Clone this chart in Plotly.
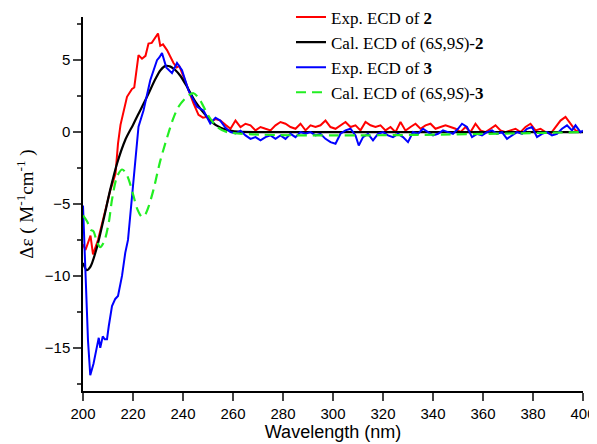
import plotly.graph_objects as go

# ---- data ----
red_wl = [200, 201, 203, 204, 206, 209, 211, 213, 214, 215, 216, 217.6, 219.6, 220.5, 222.2, 223.6, 225,
          226.2, 227.5, 228.5, 230, 230.9, 232, 233.6, 235, 236.2, 237.5, 238.5, 240.2, 242, 244.2, 246.2,
          248, 249.6, 251, 253, 255, 257,
          259, 261, 263, 265, 267, 269, 271, 273, 275, 277, 279, 281, 283, 285, 287, 289, 291, 293, 295, 297,
          299, 301, 303, 305, 307, 309, 311, 313, 315, 317, 319, 321, 323, 325, 327, 329, 331, 333, 335, 337,
          339, 341, 343, 345, 347, 349, 351, 353, 355, 357, 359, 361, 363, 365, 367, 369, 371, 373, 375, 377,
          379, 381, 383, 385, 387, 389, 391, 393, 395, 397, 399, 400]
red_val = [-7.8, -8.2, -7.2, -8.5, -7.5, -5.4, -4.0, -2.9, -0.8, 0.5, 1.2, 2.45, 3.0, 3.1, 5.35, 5.1, 5.3,
           6.15, 6.2, 6.5, 6.85, 6.0, 6.1, 5.7, 5.2, 4.8, 4.5, 4.6, 3.85, 3.0, 2.0, 1.2,
           1.0, 1.06, 0.7, 0.9, 0.8, 0.5,
           0.23, 0.8, 0.35, 0.58, 0.47, 0.12, 0.35, 0.23, 0.12, 0.47, 0.7, 0.58, 0.35, 0.23, 0.58, 0.12, 0.47,
           0.35, 0.47, 0.8, 0.35, 0.23, 0.47, 0.7, 0.35, 0.47, 0.12, 0.7, 0.47, 0.35, 0.47, 0.12, 0.35, 0.0,
           0.7, 0.1, 0.35, 0.58, 0.23, 0.47, 0.58, 0.23, 0.35, 0.47, 0.35, 0.23, 0.0, 0.35, 0.0, 0.58, 0.12,
           0.0, 0.23, 0.47, 0.12, 0.0, 0.12, 0.23, 0.0, 0.35, 0.58, 0.12, 0.23, 0.0, -0.12, 0.35, 0.8, 1.05,
           0.58, 0.12, 0.0]

cal2_wl = [200, 201.5, 203, 205.6, 208.2, 210.9, 213.6, 216.9, 220, 222, 225.6, 229, 231, 233, 235, 237,
           239, 241.6, 245, 249.6, 253, 257.6, 262, 270, 400]
cal2_val = [-9.1, -9.6, -9.35, -8.0, -6.1, -4.0, -2.2, -0.55, 0.5, 1.2, 2.45, 3.7, 4.3, 4.6, 4.55, 4.3,
            3.9, 3.15, 2.1, 1.06, 0.5, 0.14, 0.03, 0.0, 0.0]

blue_wl = [200, 201, 202, 202.9, 204.2, 205.6, 206.3, 206.9, 207.9, 208.7, 209.6, 210.3, 211.6, 212.9, 214,
           215.6, 216.9, 218, 218.9, 220.5, 222.2, 224.2, 226.9, 229.6, 230.6, 231.6, 233.3, 235.6, 237.6,
           239.6, 242.2, 245.6, 248.2, 250.9, 253, 254.9, 257, 259,
           261, 263, 265, 267, 269, 271, 273, 275, 277, 279, 281, 283, 285, 287, 289, 291, 293, 295, 297, 299,
           301, 303, 305, 307, 309, 310.3, 312, 314, 316, 318, 320, 322, 324, 326, 328, 330, 332, 334, 336,
           338, 340, 342, 344, 346, 348, 350, 351.6, 353.6, 355.6, 357.6, 359.6, 361.6, 363.6, 365.6, 367.6,
           369.6, 371.6, 373.6, 375.6, 377.6, 379.6, 381.6, 383.6, 385.6, 387.6, 389.6, 391.6, 393.6, 395.6,
           397, 399, 400]
blue_val = [-5.1, -10.0, -14.5, -16.9, -16.1, -14.9, -14.3, -15.0, -14.2, -14.4, -14.4, -13.5, -12.1, -11.6,
            -11.4, -10.0, -8.4, -7.5, -5.9, -3.0, 0.37, 1.5, 3.6, 5.0, 5.2, 5.5, 4.5, 4.1, 4.8,
            4.3, 2.9, 1.76, 1.5, 0.6, 1.0, 0.8, 0.3, 0.0,
            -0.1, 0.1, -0.23, -0.47, -0.35, -0.58, -0.35, -0.23, -0.47, -0.23, -0.47, -0.12, -0.35, 0.0,
            -0.12, 0.0, -0.23, -0.12, -0.47, -0.7, -0.81, -0.12, 0.12, 0.23, -0.23, -0.93, -0.35, -0.12,
            -0.58, -0.12, 0.0, -0.23, -0.35, -0.12, -0.35, -0.7, 0.0, -0.12, 0.23, 0.0, -0.23, -0.12, 0.12,
            0.0, -0.12, 0.23, 0.58, 0.35, -0.35, -0.12, -0.23, 0.0, 0.12, -0.12, 0.0, -0.47, -0.23, 0.0,
            -0.12, 0.23, 0.35, -0.35, -0.12, 0.0, -0.23, -0.12, 0.23, 0.47, 0.12, 0.47, 0.0, 0.1]

cal3_wl = [200, 201.6, 203.2, 204.2, 205.5, 206.9, 208.5, 210.3, 211.6, 213.6, 215.6, 217, 218.3, 220.3,
           221.6, 223.6, 225, 226.2, 228.2, 230.9, 233.6, 236, 238.2, 241.6, 244.2, 246.9, 249.6, 251.5,
           253.6, 257.6, 400]
cal3_val = [-5.8, -6.2, -6.8, -6.9, -7.6, -8.0, -7.6, -6.3, -4.7, -3.1, -2.6, -2.8, -3.3, -4.5,
            -5.3, -5.9, -5.7, -5.2, -4.0, -2.0, -0.4, 0.9, 1.76, 2.45, 2.7, 2.2, 1.3, 0.8,
            0.37, 0.0, 0.0]

names = ["Exp. ECD of <b>2</b>",
         "Cal. ECD of (6<i>S</i>,9<i>S</i>)-<b>2</b>",
         "Exp. ECD of <b>3</b>",
         "Cal. ECD of (6<i>S</i>,9<i>S</i>)-<b>3</b>"]

x_ticks = [200, 220, 240, 260, 280, 300, 320, 340, 360, 380, 400]
y_ticks = [-15, -10, -5, 0, 5]

fig = go.Figure()
fig.add_trace(go.Scatter(x=red_wl, y=red_val, mode="lines", name=names[0],
                         line=dict(color="#ff0000", width=2)))
fig.add_trace(go.Scatter(x=cal2_wl, y=cal2_val, mode="lines", name=names[1],
                         line=dict(color="#000000", width=2.2, shape="spline", smoothing=0.8)))
fig.add_trace(go.Scatter(x=blue_wl, y=blue_val, mode="lines", name=names[2],
                         line=dict(color="#0000ff", width=2)))
fig.add_trace(go.Scatter(x=cal3_wl, y=cal3_val, mode="lines", name=names[3],
                         line=dict(color="#22ee22", width=2.2, dash="10px,6px", shape="spline", smoothing=0.8)))

# page has an 8px body margin, so the figure is sized/offset to compensate
fig.update_layout(
    width=589, height=436,
    margin=dict(l=74.7, r=14, t=8.8, b=53.3, autoexpand=False),
    paper_bgcolor="white", plot_bgcolor="white",
    font=dict(family="Liberation Sans, Arial", color="black"),
    showlegend=True,
    legend=dict(x=0.416, y=1.047, xanchor="left", yanchor="top",
                bgcolor="rgba(0,0,0,0)", borderwidth=0,
                font=dict(family="Liberation Serif, Times New Roman", size=17, color="black"),
                tracegroupgap=0, itemwidth=30),
    xaxis=dict(range=[200, 400], tickvals=x_ticks, ticks="outside", ticklen=8, tickwidth=1.5,
               showline=True, linecolor="black", linewidth=1.5, showgrid=False, zeroline=False,
               automargin=False,
               tickfont=dict(size=15, family="Liberation Sans, Arial"),
               title=dict(text="Wavelength (nm)", font=dict(size=18, family="Liberation Sans, Arial"),
                          standoff=0)),
    yaxis=dict(range=[-18, 8], tickvals=y_ticks, ticks="outside", ticklen=8, tickwidth=1.5,
               showline=True, linecolor="black", linewidth=1.5, showgrid=False, zeroline=False,
               automargin=False,
               tickfont=dict(size=15, family="Liberation Sans, Arial"),
               minor=dict(tick0=0, dtick=2.5, ticks="outside", ticklen=4, tickwidth=1.5, showgrid=False),
               title=dict(text="Δε ( M<sup>-1</sup>cm<sup>-1</sup> )",
                          font=dict(size=19, family="Liberation Serif, Times New Roman"), standoff=6)),
)

fig.write_html("out.html")
